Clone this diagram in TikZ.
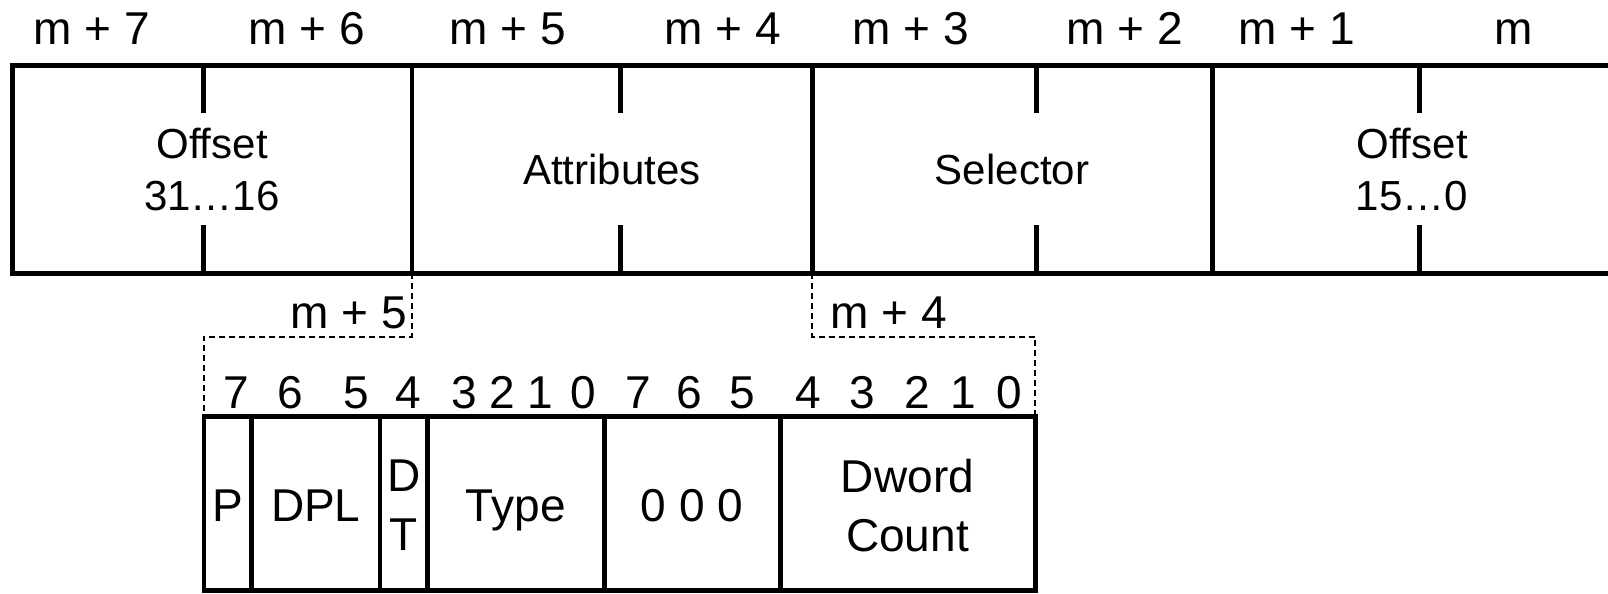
\documentclass[tikz,border=0pt]{standalone}
\usepackage{fontspec}
\setmainfont{Liberation Sans}
\usetikzlibrary{positioning}

\begin{document}
\begin{tikzpicture}[x=0.01cm,y=-0.01cm,
		frame/.style={line width=1.42pt},
		zoomline/.style={line width=0.5pt,dash pattern=on 0.06cm off 0.04cm},
		addr/.style={inner sep=0pt,anchor=base,font=\fontsize{13.09}{15}\selectfont},
		toptxt/.style={inner sep=0pt,align=center,text depth=0pt,font=\fontsize{11.95}{14.8}\selectfont},
		fieldtxt/.style={inner sep=0pt,align=center,text depth=0pt,font=\fontsize{13.09}{16.8}\selectfont}]

  \useasboundingbox (0,0) rectangle (1608,593);

  % byte addresses of the gate
  \foreach \x/\t in {92/7,306.5/6,508/5,722.6/4,911/3,1124.6/2,1297/1}
    \node[addr] (addr\t) at (\x,44.5) {m + \t};
  \node[addr] (addr0) at (1513.7,44.5) {m};

  % the gate, 8 bytes
  \draw[frame] (12.5,65.8) rectangle (1612,273.3);
  \foreach \x in {412,812,1212}
    \draw[frame] (\x,65.8) -- (\x,273.3);
  \foreach \x in {203.5,620,1036,1419} {
    \draw[frame] (\x,65.8) -- (\x,112.7);
    \draw[frame] (\x,225) -- (\x,273.3);
  }

  \node[toptxt] (offhi) at (212,169.5) {Offset\\31…16};
  \node[toptxt] (attrib) at (612,169.5) {Attributes};
  \node[toptxt] (select) at (1012,169.5) {Selector};
  \node[toptxt] (offlo) at (1412,169.5) {Offset\\15…0};

  % attribute bytes blown up
  \coordinate (hi5) at (412,273.3);
  \coordinate (hi4) at (812,273.3);
  \coordinate (lo5) at (204,416.7);
  \coordinate (lo4) at (1035,416.7);
  \draw[zoomline] (hi5) -- ++(0,63.4) -| (lo5);
  \draw[zoomline] (hi4) -- ++(0,63.4) -| (lo4);

  \node[addr,anchor=base east] (sub5) at (408,328.3) {m + 5};
  \node[addr,anchor=base west] (sub4) at (830,328.3) {m + 4};

  \foreach \x/\b [count=\i] in {236/7,290/6,356.7/5,408.7/4,464/3,502/2,540/1,583/0,
                                 638/7,689/6,742/5,808/4,862/3,917/2,963/1,1009/0}
    \node[addr] (bit\i) at (\x,408) {\b};

  \draw[frame] (lo5) rectangle (1035,590.7);
  \foreach \x in {251.7,380,427.3,604,780}
    \draw[frame] (\x,416.7) -- (\x,590.7);

  \node[fieldtxt] (present) at (228,505.5) {P};
  \node[fieldtxt] (dpl) at (315.8,505.5) {DPL};
  \node[fieldtxt] (dt) at (403.7,505.5) {D\\T};
  \node[fieldtxt] (type) at (515.7,505.5) {Type};
  \node[fieldtxt] (zeros) at (692,505.5) {0 0 0};
  \node[fieldtxt] (count) at (907.5,505.5) {Dword\\Count};

\end{tikzpicture}
\end{document}
